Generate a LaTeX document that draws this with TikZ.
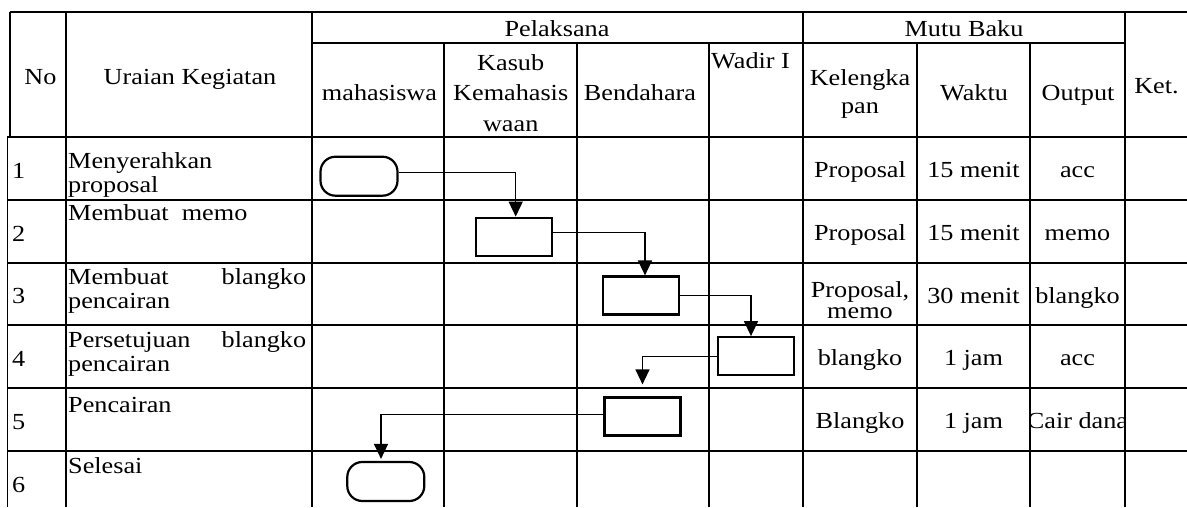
\documentclass[tikz,border=0pt]{standalone}
\usepackage{fontspec}
\setmainfont{Liberation Serif}[FakeStretch=1.14]
\usetikzlibrary{arrows.meta}
\begin{document}
\begin{tikzpicture}[x=1pt,y=-1pt,
  grid/.style={line width=1.15pt},
  box/.style={draw, line width=2.2pt, minimum width=76pt, minimum height=38pt, inner sep=0pt},
  term/.style={box, rounded corners=15pt, minimum width=77pt, minimum height=39pt},
  conn/.style={line width=1.4pt, -{Triangle[length=15pt,width=14pt]}},
  txt/.style={inner sep=0pt, font=\fontsize{23}{24}\selectfont},
  htxt/.style={inner sep=0pt, font=\fontsize{23}{30.5}\selectfont},
  mtxt/.style={inner sep=0pt, font=\fontsize{23}{21.5}\selectfont}]
\useasboundingbox (0,0) rectangle (1187,507);
% table grid
\draw[grid] (10,12) -- (1187,12);
\draw[grid] (312,43) -- (1125,43);
\foreach \yy in {137,200,263,325,388,451} \draw[grid] (7.3,\yy) -- (1187,\yy);
\draw[grid] (10,12) -- (10,137);
\draw[grid] (7.3,137) -- (7.3,507);
\foreach \xx in {66,312,803,1125} \draw[grid] (\xx,12) -- (\xx,507);
\foreach \xx in {444,577,709,917,1030} \draw[grid] (\xx,43) -- (\xx,507);
% header
\node[txt, anchor=base] (hno) at (40.5,84) {No};
\node[txt, anchor=base] (hur) at (190,84) {Uraian Kegiatan};
\node[txt, anchor=base] (hpel) at (557,36.5) {Pelaksana};
\node[txt, anchor=base] (hmut) at (964,36.5) {Mutu Baku};
\node[txt, anchor=base] (hmhs) at (379.5,100) {mahasiswa};
\node[htxt, anchor=base] (hkas) at (510.7,70) {\parbox[t]{130pt}{\centering Kasub\\Kemahasis\\waan}};
\node[txt, anchor=base] (hben) at (640,100) {Bendahara};
\node[txt, anchor=base west] (hwad) at (711,68) {Wadir I};
\node[mtxt, anchor=base, font=\fontsize{23}{28}\selectfont] (hkel) at (860,85) {\parbox[t]{112pt}{\centering Kelengka\\pan}};
\node[txt, anchor=base] (hwak) at (974,100) {Waktu};
\node[txt, anchor=base] (hout) at (1078,100) {Output};
\node[txt, anchor=base] (hket) at (1156.5,93) {Ket.};
% numbers
\node[txt, anchor=base west] (n1) at (12,178) {1};
\node[txt, anchor=base west] (n2) at (12,241.5) {2};
\node[txt, anchor=base west] (n3) at (12,303.5) {3};
\node[txt, anchor=base west] (n4) at (12,366) {4};
\node[txt, anchor=base west] (n5) at (12,429) {5};
\node[txt, anchor=base west] (n6) at (12,492) {6};
% activities
\node[txt, anchor=base west] (u1) at (68,168) {\parbox[t]{238pt}{Menyerahkan\\proposal}};
\node[txt, anchor=base west] (u2) at (68,220) {Membuat~ memo};
\node[txt, anchor=base west] (u3) at (68,284) {\parbox[t]{238pt}{\makebox[238pt]{Membuat\hfill blangko}\\pencairan}};
\node[txt, anchor=base west] (u4) at (68,347.5) {\parbox[t]{238pt}{\makebox[238pt]{Persetujuan\hfill blangko}\\pencairan}};
\node[txt, anchor=base west] (u5) at (68,412) {Pencairan};
\node[txt, anchor=base west] (u6) at (68,473) {Selesai};
% mutu baku values
\node[txt, anchor=base] (k1) at (860,177) {Proposal};
\node[txt, anchor=base] (w1) at (973.5,177) {15 menit};
\node[txt, anchor=base] (o1) at (1077.5,177) {acc};
\node[txt, anchor=base] (k2) at (860,240) {Proposal};
\node[txt, anchor=base] (w2) at (973.5,240) {15 menit};
\node[txt, anchor=base] (o2) at (1077.5,240) {memo};
\node[mtxt, anchor=base] (k3) at (860,297) {\parbox[t]{112pt}{\centering Proposal,\\memo}};
\node[txt, anchor=base] (w3) at (973.5,303) {30 menit};
\node[txt, anchor=base] (o3) at (1077.5,303) {blangko};
\node[txt, anchor=base] (k4) at (860,365) {blangko};
\node[txt, anchor=base] (w4) at (973.5,365) {1 jam};
\node[txt, anchor=base] (o4) at (1077.5,365) {acc};
\node[txt, anchor=base] (k5) at (860,428) {Blangko};
\node[txt, anchor=base] (w5) at (973.5,428) {1 jam};
\begin{scope}
\clip (1030.5,389) rectangle (1124.5,450);
\node[txt, anchor=base] (o5) at (1077.5,428) {Cair dana};
\end{scope}
% flow shapes
\node[term] (t1) at (359,176.2) {};
\node[box] (b2) at (514.2,236.7) {};
\node[box] (b3) at (641,295.5) {};
\node[box] (b4) at (755.7,356.2) {};
\node[box] (b5) at (642.5,416.5) {};
\node[term] (t6) at (385.8,481.5) {};
% connectors
\draw[conn] ([yshift=4pt]t1.east) -| ([xshift=1.5pt]b2.north);
\draw[conn] ([yshift=4pt]b2.east) -| ([xshift=4pt]b3.north);
\draw[conn] (b3.east) -| ([xshift=-4.7pt]b4.north);
\draw[conn, shorten >=12pt] (b4.west) -| (b5.north);
\draw[conn, shorten >=2pt] ([yshift=2pt]b5.west) -| ([xshift=-4.8pt]t6.north);
\end{tikzpicture}
\end{document}
